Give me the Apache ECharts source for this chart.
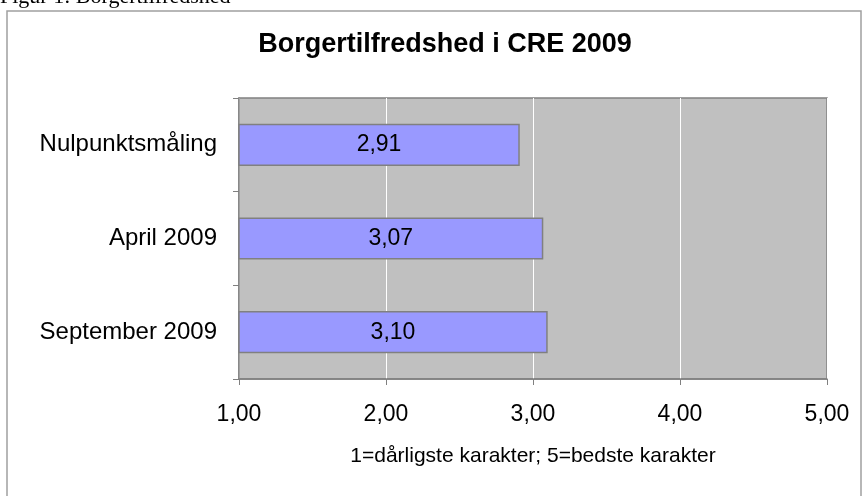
<!DOCTYPE html>
<html>
<head>
<meta charset="utf-8">
<script src="https://cdn.jsdelivr.net/npm/echarts@6/dist/echarts.min.js"></script>
<style>
  html, body { margin: 0; padding: 0; background: #fff; }
  #chart { width: 864px; height: 496px; }
</style>
</head>
<body>
<div id="chart"></div>
<script>
// Borgertilfredshed i CRE 2009 - vandret søjlediagram
const categories = ['Nulpunktsmåling', 'April 2009', 'September 2009'];
const values = [2.91, 3.07, 3.10];
const xTicks = [1, 2, 3, 4, 5];

const fmt = v => v.toFixed(2).replace('.', ',');

const myChart = echarts.init(document.getElementById('chart'));
const option = {
    backgroundColor: '#fff',
    textStyle: { fontFamily: '"Liberation Sans", Arial, sans-serif' },
    animation: false,
    title: {
        text: 'Borgertilfredshed i CRE 2009',
        left: 440,
        top: 26,
        textAlign: 'center',
        textStyle: { fontSize: 27, fontWeight: 'bold', color: '#000' }
    },
    graphic: [
        {
            type: 'text',
            left: 0,
            top: -14,
            style: {
                text: 'Figur 1: Borgertilfredshed',
                font: '22px "Liberation Serif", "Times New Roman", serif',
                fill: '#000'
            }
        },
        {
            type: 'rect',
            shape: { x: 7, y: 11, width: 854, height: 520 },
            style: { fill: 'none', stroke: '#a0a0a0', lineWidth: 1.5 },
            z: -1
        }
    ],
    grid: {
        left: 239,
        right: 37,
        top: 98,
        bottom: 117,
        show: true,
        backgroundColor: '#c0c0c0',
        borderColor: '#808080',
        borderWidth: 1.5
    },
    xAxis: {
        type: 'value',
        min: xTicks[0],
        max: xTicks[xTicks.length - 1],
        interval: 1,
        name: '1=dårligste karakter; 5=bedste karakter',
        nameLocation: 'middle',
        nameGap: 67,
        nameTextStyle: { fontSize: 21, color: '#000' },
        axisLine: { show: true, lineStyle: { color: '#808080', width: 1.5 } },
        axisTick: { show: true, length: 6, lineStyle: { color: '#808080' } },
        axisLabel: { fontSize: 23, color: '#000', margin: 24, formatter: v => fmt(v) },
        splitLine: { show: true, lineStyle: { color: '#ffffff', width: 1 } }
    },
    yAxis: {
        type: 'category',
        data: categories,
        inverse: true,
        axisLine: { show: true, lineStyle: { color: '#808080', width: 1.5 } },
        axisTick: { show: true, length: 6, lineStyle: { color: '#808080' } },
        axisLabel: { fontSize: 24, color: '#000', margin: 22 },
        splitLine: { show: false }
    },
    series: [
        {
            type: 'bar',
            data: values,
            barWidth: '45%',
            itemStyle: { color: '#9999ff', borderColor: '#808080', borderWidth: 1.5 },
            label: {
                show: true,
                position: 'inside',
                color: '#000',
                fontSize: 23,
                formatter: p => fmt(p.value)
            }
        }
    ]
};
option && myChart.setOption(option);
window.onresize = () => {
    myChart.resize();
};
</script>
</body>
</html>
